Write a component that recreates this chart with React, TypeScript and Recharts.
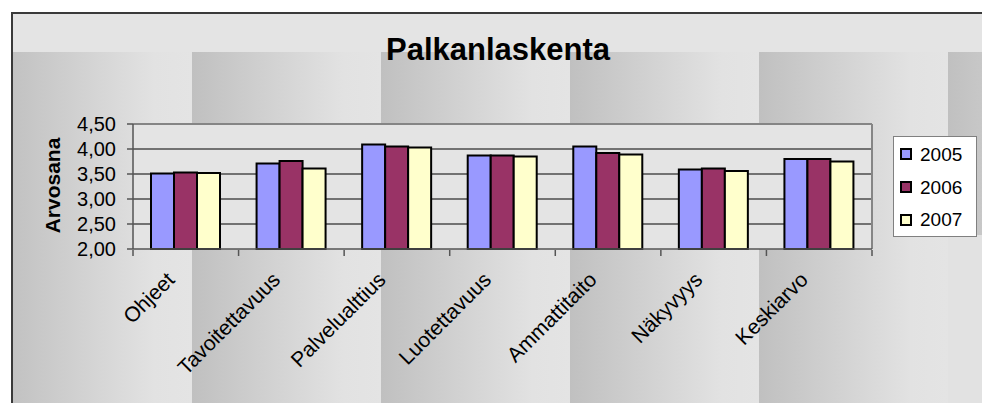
import React from 'react';
import { BarChart, Bar, XAxis, YAxis, CartesianGrid, ReferenceLine } from 'recharts';

const categories = ['Ohjeet', 'Tavoitettavuus', 'Palvelualttius', 'Luotettavuus', 'Ammattitaito', 'Näkyvyys', 'Keskiarvo'];
const s2005 = [3.51, 3.71, 4.09, 3.87, 4.05, 3.59, 3.8];
const s2006 = [3.53, 3.76, 4.05, 3.87, 3.92, 3.61, 3.8];
const s2007 = [3.52, 3.61, 4.03, 3.85, 3.89, 3.56, 3.75];
const seriesNames = ['2005', '2006', '2007'];
const seriesColors = ['#9999ff', '#993366', '#ffffcc'];
const yTicks = [2, 2.5, 3, 3.5, 4, 4.5];
const gridValues = [2.5, 3, 3.5, 4];
const frameTicks = [0, 1, 2, 3, 4, 5, 6, 7];
const title = 'Palkanlaskenta';
const yTitle = 'Arvosana';

const data = categories.map((c, i) => ({ name: c, pos: i + 0.5, '2005': s2005[i], '2006': s2006[i], '2007': s2007[i] }));

const FONT = "Arial, 'Liberation Sans', sans-serif";

const tileCols = [3, 192, 381, 570, 759, 948];
const tileRows = [
  { y: 52, h: 183 },
  { y: 235, h: 183 },
];

const CatTick = (props: any) => {
  const { x, payload } = props;
  const ex = x - 10;
  const ey = 281;
  return (
    <text
      x={ex}
      y={ey}
      textAnchor="end"
      fontSize={21}
      fontFamily={FONT}
      fill="#000"
      transform={`rotate(-45, ${ex}, ${ey})`}
    >
      {payload.value}
    </text>
  );
};

export default function App() {
  return (
    <div style={{ position: 'relative', width: 990, height: 403, margin: '-8px 0 0 -8px', overflow: 'hidden', background: '#fff' }}>
      <svg width={990} height={403} style={{ position: 'absolute', left: 0, top: 0 }}>
        <defs>
          <linearGradient id="tileGrad" x1="0" y1="0" x2="1" y2="0">
            <stop offset="0" stopColor="#c0c0c0" />
            <stop offset="0.8" stopColor="#e2e2e2" />
            <stop offset="1" stopColor="#e4e4e4" />
          </linearGradient>
          <clipPath id="frameClip">
            <rect x={12} y={13} width={972} height={400} />
          </clipPath>
        </defs>
        <rect x={12} y={13} width={972} height={400} fill="#e4e4e4" />
        <g clipPath="url(#frameClip)">
          {tileRows.map((r, ri) =>
            tileCols.map((cx, ci) => (
              <rect
                key={`${ri}-${ci}`}
                x={cx}
                y={r.y}
                width={189}
                height={r.h}
                fill={ri === 1 && ci === 5 ? '#e2e2e2' : 'url(#tileGrad)'}
              />
            ))
          )}
        </g>
        <rect x={12} y={13} width={972} height={400} fill="none" stroke="#3a3a3a" strokeWidth={2} />
        <text x={498} y={60} textAnchor="middle" fontSize={31} fontWeight="bold" fontFamily={FONT} fill="#000">
          {title}
        </text>
        <text
          x={60}
          y={185.5}
          textAnchor="middle"
          fontSize={21}
          fontWeight="bold"
          fontFamily={FONT}
          fill="#000"
          transform="rotate(-90, 60, 185.5)"
        >
          {yTitle}
        </text>
      </svg>
      <div style={{ position: 'absolute', left: 0, top: 0 }}>
        <BarChart
          width={990}
          height={403}
          data={data}
          margin={{ top: 124, right: 118, left: 0, bottom: 152 }}
          barCategoryGap={18}
          barGap={0}
        >
          <CartesianGrid
            vertical={false}
            horizontalValues={gridValues}
            stroke="#000"
            strokeWidth={1}
            fill="#e4e4e4"
            fillOpacity={1}
          />
          <XAxis
            dataKey="name"
            height={1}
            tickLine={false}
            axisLine={{ stroke: '#555', strokeWidth: 1.5 }}
            interval={0}
            tick={<CatTick />}
          />
          <XAxis
            xAxisId="frame"
            dataKey="pos"
            type="number"
            domain={[0, 7]}
            ticks={frameTicks}
            interval={0}
            height={1}
            tickFormatter={() => ''}
            tickSize={6}
            tickLine={{ stroke: '#555', strokeWidth: 1.5 }}
            axisLine={false}
          />
          <YAxis
            type="number"
            domain={[2, 4.5]}
            ticks={yTicks}
            width={133}
            tickSize={6}
            tickMargin={11}
            interval={0}
            tickFormatter={(v: number) => v.toFixed(2).replace('.', ',')}
            tick={{ fontSize: 20, fontFamily: FONT, fill: '#000' }}
            tickLine={{ stroke: '#555', strokeWidth: 1.5 }}
            axisLine={{ stroke: '#555', strokeWidth: 1.5 }}
          />
          <ReferenceLine y={4.5} stroke="#858585" strokeWidth={2} />
          <ReferenceLine xAxisId="frame" x={7} stroke="#858585" strokeWidth={2} />
          {seriesNames.map((s, i) => (
            <Bar
              key={s}
              dataKey={s}
              fill={seriesColors[i]}
              stroke="#000"
              strokeWidth={2}
              isAnimationActive={false}
            />
          ))}
        </BarChart>
      </div>
      <div
        style={{
          position: 'absolute',
          left: 893,
          top: 136,
          width: 84,
          height: 101,
          boxSizing: 'border-box',
          background: '#fff',
          border: '1px solid #808080',
          paddingTop: 1,
          fontFamily: FONT,
        }}
      >
        {seriesNames.map((s, i) => (
          <div key={s} style={{ display: 'flex', alignItems: 'center', height: 32.7 }}>
            <div
              style={{
                width: 12,
                height: 12,
                boxSizing: 'border-box',
                border: '2px solid #000',
                background: seriesColors[i],
                marginLeft: 6,
                marginRight: 8,
              }}
            />
            <span style={{ fontSize: 19, lineHeight: '19px', color: '#000' }}>{s}</span>
          </div>
        ))}
      </div>
    </div>
  );
}
